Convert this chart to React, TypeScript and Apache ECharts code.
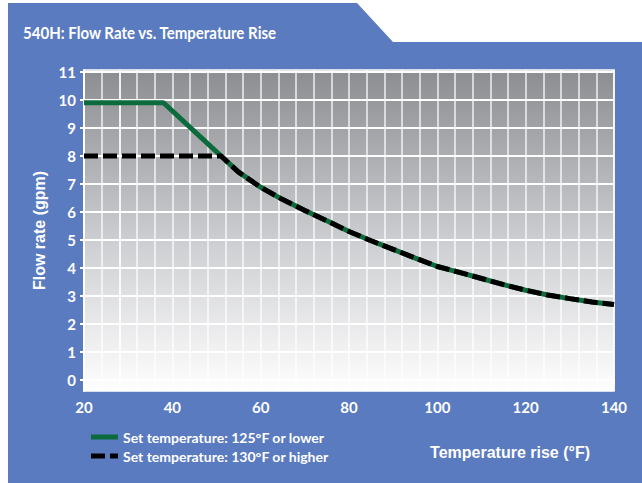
import React, { useEffect, useRef } from "react";
import * as echarts from "echarts";

const curveX = [51, 55, 60, 65, 70, 75, 80, 85, 90, 95, 100, 105, 110, 115, 120, 125, 130, 135, 140];
const curveY = [8.0, 7.42, 6.88, 6.44, 6.05, 5.68, 5.3, 4.97, 4.66, 4.35, 4.05, 3.84, 3.62, 3.4, 3.2, 3.03, 2.9, 2.78, 2.69];
const greenHeadX = [20, 38];
const greenHeadY = [9.9, 9.9];
const blackHeadX = [20];
const blackHeadY = [8.0];
const xTicks = [20, 28, 40, 60, 80, 100, 120, 140];
const yTicks = [0, 1, 2, 3, 4, 5, 6, 7, 8, 9, 10, 11];
const seriesNames = ["Set temperature: 125°F or lower", "Set temperature: 130°F or higher"];
const titleText = "540H: Flow Rate vs. Temperature Rise";
const xName = "Temperature rise (°F)";
const yName = "Flow rate (gpm)";

const LABEL_FONT = "Lato, 'Noto Sans', sans-serif";
const ARIAL = "'Liberation Sans', Arial, sans-serif";
const BLUE = "#5a7bbf";
const GREEN = "#0b6b3c";

function pairs(xs: number[], ys: number[]) {
  return xs.map((x, i) => [x, ys[i]]);
}

export default function App() {
  const ref = useRef<HTMLDivElement>(null);
  useEffect(() => {
    document.body.style.margin = "0";
    const chart = echarts.init(ref.current!, null, { renderer: "svg" });
    const greenData = [...pairs(greenHeadX, greenHeadY), ...pairs(curveX, curveY)];
    const blackData = [...pairs(blackHeadX, blackHeadY), ...pairs(curveX, curveY)];
    const gridLine = { color: "rgba(255,255,255,0.85)", width: 1.5 };
    chart.setOption({
      animation: false,
      backgroundColor: "#ffffff",
      graphic: [
        {
          type: "polygon",
          z: -10,
          silent: true,
          shape: { points: [[8, 3], [357, 3], [393, 42], [642, 42], [642, 483], [8, 483]] },
          style: { fill: BLUE },
        },
        {
          type: "text",
          x: 23,
          y: 32,
          scaleX: 0.86,
          style: {
            text: titleText,
            fill: "#ffffff",
            fontSize: 17.5,
            fontWeight: "bold",
            fontFamily: LABEL_FONT,
            verticalAlign: "middle",
          },
        },
      ],
      grid: {
        left: 84,
        right: 28,
        top: 70,
        bottom: 92,
        show: true,
        borderColor: "#ffffff",
        borderWidth: 1.5,
        backgroundColor: new echarts.graphic.LinearGradient(0, 0, 0, 1, [
          { offset: 0, color: "#8c8d91" },
          { offset: 0.55, color: "#cfd0d3" },
          { offset: 1, color: "#fefefe" },
        ]),
      },
      legend: {
        orient: "vertical",
        left: 86,
        top: 425,
        itemWidth: 27,
        itemHeight: 5,
        itemGap: 5,
        selectedMode: false,
        data: [
          { name: seriesNames[0], icon: "rect" },
          { name: seriesNames[1], icon: "path://M0 0H14V5H0Z M19 0H27V5H19Z" },
        ],
        textStyle: { color: "#ffffff", fontSize: 14, fontWeight: "bold", fontFamily: LABEL_FONT },
      },
      xAxis: {
        type: "value",
        min: 20,
        max: 140,
        interval: 20,
        axisLine: { show: true, lineStyle: { color: "#ffffff", width: 2 } },
        axisTick: { show: true, length: 5, customValues: xTicks, lineStyle: { color: "#ffffff", width: 2 } },
        axisLabel: { color: "#ffffff", fontSize: 15, fontWeight: "bold", fontFamily: LABEL_FONT, margin: 8 },
        splitLine: { show: true, lineStyle: gridLine },
        minorTick: { show: false, splitNumber: 5 },
        minorSplitLine: { show: true, lineStyle: gridLine },
        name: xName,
        nameLocation: "end",
        nameGap: -24,
        nameTextStyle: {
          color: "#ffffff",
          fontSize: 16,
          fontWeight: "bold",
          fontFamily: ARIAL,
          align: "right",
          verticalAlign: "top",
          padding: [65, 0, 0, 0],
        },
      },
      yAxis: {
        type: "value",
        min: -0.4,
        max: 11.07,
        axisLine: { show: true, lineStyle: { color: "#ffffff", width: 2 } },
        axisTick: { show: true, length: 4, customValues: yTicks, lineStyle: { color: "#ffffff", width: 2 } },
        axisLabel: { customValues: yTicks, color: "#ffffff", fontSize: 15, fontWeight: "bold", fontFamily: LABEL_FONT, margin: 8 },
        splitLine: { show: true, lineStyle: { color: "#ffffff", width: 2 } },
        name: yName,
        nameLocation: "middle",
        nameRotate: 90,
        nameGap: 36,
        nameTextStyle: { color: "#ffffff", fontSize: 16, fontWeight: "bold", fontFamily: ARIAL },
      },
      series: [
        {
          name: seriesNames[0],
          type: "line",
          data: greenData,
          symbol: "none",
          lineStyle: { color: GREEN, width: 5 },
          itemStyle: { color: GREEN },
          z: 2,
        },
        {
          name: seriesNames[1],
          type: "line",
          data: blackData,
          symbol: "none",
          lineStyle: { color: "#000000", width: 5, type: [14, 5] },
          itemStyle: { color: "#000000" },
          z: 3,
        },
      ],
    });
    return () => chart.dispose();
  }, []);
  return <div ref={ref} style={{ width: 642, height: 483 }} />;
}
